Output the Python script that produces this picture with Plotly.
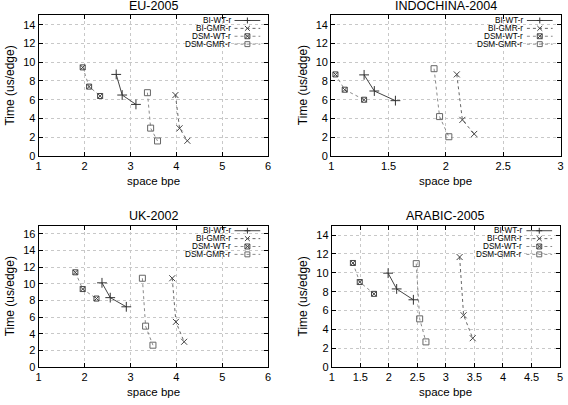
import plotly.graph_objects as go

# ---------------- data ----------------
series_names = ["BI-WT-r", "BI-GMR-r", "DSM-WT-r", "DSM-GMR-r"]
titles = ["EU-2005", "INDOCHINA-2004", "UK-2002", "ARABIC-2005"]

eu_bi_wt_x = [2.69, 2.82, 3.12]
eu_bi_wt_y = [8.7, 6.5, 5.5]
eu_bi_gmr_x = [3.98, 4.07, 4.24]
eu_bi_gmr_y = [6.5, 2.95, 1.62]
eu_dsm_wt_x = [1.96, 2.1, 2.34]
eu_dsm_wt_y = [9.45, 7.4, 6.4]
eu_dsm_gmr_x = [3.37, 3.44, 3.59]
eu_dsm_gmr_y = [6.75, 2.97, 1.6]

in_bi_wt_x = [1.287, 1.376, 1.56]
in_bi_wt_y = [8.65, 6.93, 5.9]
in_bi_gmr_x = [2.095, 2.144, 2.247]
in_bi_gmr_y = [8.7, 3.85, 2.35]
in_dsm_wt_x = [1.037, 1.118, 1.287]
in_dsm_wt_y = [8.7, 7.07, 6.0]
in_dsm_gmr_x = [1.897, 1.945, 2.026]
in_dsm_gmr_y = [9.31, 4.2, 2.05]

uk_bi_wt_x = [2.38, 2.56, 2.91]
uk_bi_wt_y = [10.13, 8.35, 7.25]
uk_bi_gmr_x = [3.91, 3.99, 4.17]
uk_bi_gmr_y = [10.68, 5.44, 3.05]
uk_dsm_wt_x = [1.8, 1.96, 2.26]
uk_dsm_wt_y = [11.39, 9.38, 8.24]
uk_dsm_gmr_x = [3.26, 3.33, 3.49]
uk_dsm_gmr_y = [10.68, 4.93, 2.64]

ar_bi_wt_x = [1.987, 2.137, 2.43]
ar_bi_wt_y = [9.96, 8.29, 7.14]
ar_bi_gmr_x = [3.24, 3.31, 3.47]
ar_bi_gmr_y = [11.67, 5.5, 3.07]
ar_dsm_wt_x = [1.37, 1.49, 1.74]
ar_dsm_wt_y = [11.04, 9.02, 7.77]
ar_dsm_gmr_x = [2.48, 2.54, 2.65]
ar_dsm_gmr_y = [10.97, 5.12, 2.68]

x_ranges = [[1, 6], [1, 3], [1, 6], [1, 5]]
x_dticks = [1, 0.5, 1, 0.5]
y_ranges = [[0, 15], [0, 15], [0, 17], [0, 15]]
y_dtick = 2

panel_data = [
    [(eu_bi_wt_x, eu_bi_wt_y), (eu_bi_gmr_x, eu_bi_gmr_y), (eu_dsm_wt_x, eu_dsm_wt_y), (eu_dsm_gmr_x, eu_dsm_gmr_y)],
    [(in_bi_wt_x, in_bi_wt_y), (in_bi_gmr_x, in_bi_gmr_y), (in_dsm_wt_x, in_dsm_wt_y), (in_dsm_gmr_x, in_dsm_gmr_y)],
    [(uk_bi_wt_x, uk_bi_wt_y), (uk_bi_gmr_x, uk_bi_gmr_y), (uk_dsm_wt_x, uk_dsm_wt_y), (uk_dsm_gmr_x, uk_dsm_gmr_y)],
    [(ar_bi_wt_x, ar_bi_wt_y), (ar_bi_gmr_x, ar_bi_gmr_y), (ar_dsm_wt_x, ar_dsm_wt_y), (ar_dsm_gmr_x, ar_dsm_gmr_y)],
]

# ---------------- styles / layout ----------------
W, H = 568, 405
FONT = "Liberation Sans, Arial, Helvetica, sans-serif"
# plot boxes in pixels: (left, right, top, bottom)
boxes = [(36, 268, 15.6, 158.3), (331.7, 563.5, 15.6, 158.3),
         (36, 268, 229, 372.7), (332.3, 563, 229, 372.7)]

line_colors = ["#444444", "#666666", "#8a8a8a", "#8a8a8a"]
marker_colors = ["#333333", "#444444", "#444444", "#666666"]
dashes = ["solid", "dot", "dot", "dot"]
symbols = ["cross-thin-open", "x-thin-open", "square-x-open", "square-open"]
msizes = [7, 6, 5, 6]


def px(x):
    return x / W


def py(y):
    return 1 - y / H


fig = go.Figure()
shapes = []
annotations = []

for p in range(4):
    l, r, t, b = boxes[p]
    ax = "" if p == 0 else str(p + 1)
    for s in range(4):
        xs, ys = panel_data[p][s]
        fig.add_trace(go.Scatter(
            x=xs, y=ys, mode="lines+markers", name=series_names[s],
            xaxis="x" + ax, yaxis="y" + ax, showlegend=False,
            line=dict(color=line_colors[s], width=1, dash=dashes[s]),
            marker=dict(symbol=symbols[s], size=msizes[s], color=marker_colors[s],
                        line=dict(color=marker_colors[s], width=1)),
        ))
    common = dict(showline=True, linecolor="black", linewidth=1, mirror="ticks",
                  ticks="inside", ticklen=4, tickcolor="black",
                  showgrid=True, gridcolor="#c8c8c8", griddash="dot", gridwidth=1,
                  zeroline=False, ticklabeloverflow="allow",
                  tickfont=dict(family=FONT, size=11, color="black"))
    fig.update_layout(**{
        "xaxis" + ax: dict(domain=[px(l), px(r)], range=x_ranges[p], dtick=x_dticks[p],
                           tick0=0, anchor="y" + ax, **common),
        "yaxis" + ax: dict(domain=[py(b), py(t)], range=y_ranges[p], dtick=y_dtick,
                           tick0=0, anchor="x" + ax, **common),
    })
    cx = (l + r) / 2
    cy = (t + b) / 2
    annotations.append(dict(text=titles[p], x=px(cx), y=py(t - 9.5), xref="paper", yref="paper",
                            showarrow=False, xanchor="center", yanchor="middle", borderpad=0,
                            font=dict(family=FONT, size=12.5, color="black")))
    annotations.append(dict(text="space bpe", x=px(cx), y=py(b + 25), xref="paper", yref="paper",
                            showarrow=False, xanchor="center", yanchor="middle", borderpad=0,
                            font=dict(family=FONT, size=11.5, color="black")))
    annotations.append(dict(text="Time (us/edge)", x=px(l - 29), y=py(cy), xref="paper", yref="paper",
                            showarrow=False, xanchor="center", yanchor="middle", textangle=-90,
                            borderpad=0, font=dict(family=FONT, size=12, color="black")))
    # legend (gnuplot-style: right-aligned text, sample on the right)
    for s in range(4):
        ry = t + 5.2 + 8.0 * s
        annotations.append(dict(text=series_names[s], x=px(r - 37), y=py(ry), xref="paper", yref="paper",
                                showarrow=False, xanchor="right", yanchor="middle", borderpad=0,
                                font=dict(family=FONT, size=8.2, color="black")))
        shapes.append(dict(type="line", xref="paper", yref="paper",
                           x0=px(r - 34), x1=px(r - 8), y0=py(ry), y1=py(ry),
                           line=dict(color=line_colors[s], width=1, dash=dashes[s])))
        mx = r - 21
        d = 2.5
        mc = marker_colors[s]
        if s == 0:
            shapes.append(dict(type="line", xref="paper", yref="paper", x0=px(mx - d - 0.5), x1=px(mx + d + 0.5),
                               y0=py(ry), y1=py(ry), line=dict(color=mc, width=1)))
            shapes.append(dict(type="line", xref="paper", yref="paper", x0=px(mx), x1=px(mx),
                               y0=py(ry - d - 0.5), y1=py(ry + d + 0.5), line=dict(color=mc, width=1)))
        elif s == 1 or s == 2:
            shapes.append(dict(type="line", xref="paper", yref="paper", x0=px(mx - d), x1=px(mx + d),
                               y0=py(ry - d), y1=py(ry + d), line=dict(color=mc, width=1)))
            shapes.append(dict(type="line", xref="paper", yref="paper", x0=px(mx - d), x1=px(mx + d),
                               y0=py(ry + d), y1=py(ry - d), line=dict(color=mc, width=1)))
            if s == 2:
                shapes.append(dict(type="rect", xref="paper", yref="paper", x0=px(mx - d), x1=px(mx + d),
                                   y0=py(ry + d), y1=py(ry - d), line=dict(color=mc, width=1)))
        else:
            shapes.append(dict(type="rect", xref="paper", yref="paper", x0=px(mx - d), x1=px(mx + d),
                               y0=py(ry + d), y1=py(ry - d), line=dict(color=mc, width=1)))

fig.update_layout(width=W, height=H, margin=dict(l=0, r=0, t=0, b=0),
                  paper_bgcolor="white", plot_bgcolor="white",
                  showlegend=False, shapes=shapes, annotations=annotations,
                  font=dict(family=FONT, color="black"))

fig.write_html("out.html", config={"displayModeBar": False},
               post_script="document.body.style.margin='0px';document.body.style.overflow='hidden';")
